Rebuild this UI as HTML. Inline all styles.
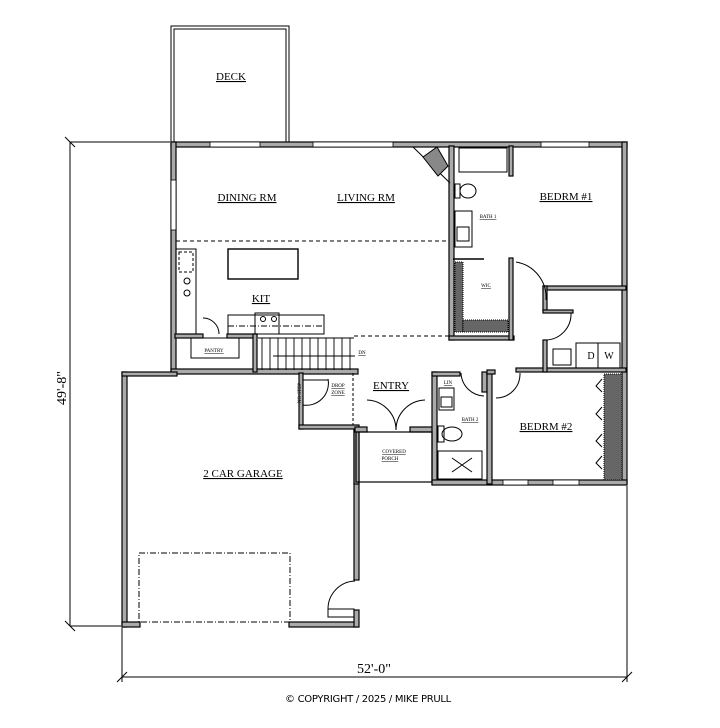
<!DOCTYPE html>
<html><head><style>
html,body{margin:0;padding:0;background:#fff;}
svg{display:block;}
text{font-family:"Liberation Serif",serif;fill:#000;}
</style></head><body>
<svg width="720" height="728" viewBox="0 0 720 728" xmlns="http://www.w3.org/2000/svg">
<g fill="none" stroke="#000">
<!-- deck -->
<rect x="171" y="26" width="118" height="116" stroke-width="1"/>
<rect x="174" y="29" width="112" height="113" stroke-width="1"/>
</g>
<text x="231" y="80" font-size="11" text-anchor="middle" text-decoration="underline">DECK</text>

<!-- walls: gray fill with black outline -->
<g fill="#aaa" stroke="#000" stroke-width="1.2">
<!-- top wall -->
<rect x="171" y="142" width="456" height="5"/>
<!-- right wall -->
<rect x="622" y="142" width="5" height="342"/>
<!-- left wall main -->
<rect x="171" y="142" width="5" height="232"/>
<!-- bottom of pantry/stairs -->
<rect x="171" y="369" width="187" height="5"/>
<!-- garage -->
<rect x="122" y="372" width="5" height="255"/>
<rect x="122" y="372" width="55" height="4"/>
<rect x="122" y="622" width="18" height="5"/>
<rect x="289" y="622" width="69" height="5"/>
<rect x="354" y="427" width="5" height="153"/>
<rect x="354" y="610" width="5" height="17"/>
<!-- drop zone walls -->
<rect x="299" y="373" width="4" height="56"/>
<rect x="299" y="425" width="60" height="4"/>
<!-- porch -->
<rect x="354" y="430" width="5" height="54"/>
<rect x="355" y="427" width="12" height="5"/>
<rect x="410" y="427" width="26" height="5"/>
<!-- bath2 / bedroom2 block -->
<rect x="432" y="372" width="5" height="112"/>
<rect x="432" y="480" width="195" height="5"/>
<rect x="432" y="372" width="28" height="4"/>
<rect x="482" y="372" width="5" height="20"/>
<rect x="487" y="372" width="5" height="112"/>
<rect x="487" y="370" width="8" height="4"/>
<rect x="516" y="368" width="110" height="4"/>
<!-- bath1/wic block -->
<rect x="449" y="146" width="5" height="194"/>
<rect x="449" y="336" width="65" height="4"/>
<rect x="509" y="146" width="4" height="30"/>
<rect x="509" y="258" width="4" height="82"/>
<!-- bedroom1 bottom / laundry -->
<rect x="543" y="286" width="83" height="4"/>
<rect x="543" y="286" width="4" height="26"/>
<rect x="543" y="310" width="30" height="3"/>
<rect x="543" y="340" width="4" height="32"/>
<!-- kitchen/pantry partition -->
<rect x="175" y="334" width="28" height="4"/>
<rect x="227" y="334" width="30" height="4"/>
<rect x="253" y="334" width="4" height="38"/>
</g>

<!-- windows -->
<g fill="#fff" stroke="#000" stroke-width="0.8">
<rect x="210" y="142" width="50" height="5"/>
<rect x="313" y="142" width="80" height="5"/>
<rect x="541" y="142" width="48" height="5"/>
<rect x="503" y="480" width="25" height="5"/>
<rect x="553" y="480" width="26" height="5"/>
<rect x="171" y="180" width="5" height="50"/>
</g>

<g fill="none" stroke="#000" stroke-width="1">
<!-- dashed lines -->
<line x1="176" y1="241" x2="449" y2="241" stroke-dasharray="4,3"/>
<line x1="354" y1="336" x2="449" y2="336" stroke-dasharray="4,3"/>
<line x1="353" y1="373" x2="353" y2="425" stroke-dasharray="3,2"/>
<!-- island -->
<rect x="228" y="249" width="70" height="30" stroke-width="1.4"/>
<!-- left counter -->
<rect x="176" y="249" width="20" height="85"/>
<rect x="179" y="252" width="14" height="20" stroke-dasharray="3,2"/>
<circle cx="187" cy="281" r="3"/><circle cx="187" cy="293" r="3"/>
<!-- bottom counter -->
<rect x="228" y="315" width="96" height="19"/>
<rect x="255" y="313" width="24" height="21"/>
<circle cx="263" cy="319" r="2.5"/><circle cx="274" cy="319" r="2.5"/>
<line x1="228" y1="326" x2="324" y2="326" stroke-dasharray="6,2,1,2"/>
<!-- pantry -->
<rect x="191" y="338" width="48" height="20"/>
<path d="M203 318 A16 16 0 0 1 219 334"/>
<!-- stairs -->
<g stroke-width="0.9">
<line x1="258" y1="338" x2="354" y2="338"/>
<line x1="262" y1="338" x2="262" y2="370"/>
<line x1="270" y1="338" x2="270" y2="370"/>
<line x1="278" y1="338" x2="278" y2="370"/>
<line x1="286" y1="338" x2="286" y2="370"/>
<line x1="294" y1="338" x2="294" y2="370"/>
<line x1="302" y1="338" x2="302" y2="370"/>
<line x1="310" y1="338" x2="310" y2="370"/>
<line x1="318" y1="338" x2="318" y2="370"/>
<line x1="326" y1="338" x2="326" y2="370"/>
<line x1="334" y1="338" x2="334" y2="370"/>
<line x1="342" y1="338" x2="342" y2="370"/>
<line x1="350" y1="338" x2="350" y2="370"/>
<line x1="273" y1="356" x2="355" y2="356"/>
</g>
<!-- fireplace -->
<path d="M413 147 L450 183" />
<path d="M423 157 L437 147 L448 166 L438 176 Z" fill="#888"/>
<!-- bath1 -->
<rect x="459" y="148" width="48" height="24"/>
<ellipse cx="468" cy="191" rx="8" ry="7"/>
<rect x="455" y="184" width="5" height="14"/>
<rect x="455" y="211" width="17" height="36"/>
<rect x="457" y="227" width="12" height="14"/>
<line x1="453" y1="259" x2="484" y2="259" stroke-width="1.4"/>
<!-- WIC rods -->
<rect x="455" y="262" width="8" height="70" fill="#666" stroke-dasharray="1,1"/>
<rect x="463" y="320" width="45" height="12" fill="#666" stroke-dasharray="1,1"/>
<!-- bedroom1 door -->
<path d="M516 262 A36 36 0 0 1 546 300"/>
<path d="M571 313 A26 26 0 0 1 546 340"/>
<!-- laundry -->
<rect x="553" y="349" width="18" height="16"/>
<rect x="576" y="343" width="22" height="25"/>
<rect x="598" y="343" width="22" height="25"/>
<!-- bedroom2 closet -->
<rect x="604" y="374" width="18" height="106" fill="#666" stroke-dasharray="1,1"/>
<path d="M602 379 L596 386 L602 392 M602 407 L596 414 L602 420 M602 434 L596 441 L602 447 M602 456 L596 463 L602 469"/>
<!-- bath2 -->
<rect x="439" y="388" width="15" height="22"/>
<rect x="441" y="397" width="11" height="10"/>
<ellipse cx="452" cy="434" rx="10" ry="7"/>
<rect x="438" y="426" width="6" height="16"/>
<rect x="438" y="451" width="44" height="28"/>
<path d="M452 458 L472 472 M472 458 L452 472"/>
<path d="M461 373 A24 24 0 0 0 484 396"/>
<path d="M520 373 A24 24 0 0 1 496 398"/>
<!-- entry doors -->
<path d="M367 400 A30 30 0 0 1 396 430"/>
<path d="M425 400 A30 30 0 0 0 396 430"/>
<rect x="356" y="432" width="76" height="50" stroke-width="1.2"/>
<!-- drop zone door -->
<path d="M303 405 A22 22 0 0 0 328 379"/>
<line x1="303" y1="380" x2="328" y2="380"/>
<!-- garage door -->
<rect x="139" y="553" width="151" height="69" stroke-dasharray="6,2,1,2"/>
<path d="M355 581 A28 28 0 0 0 328 609"/>
<rect x="328" y="609" width="26" height="8"/>
<!-- dimensions -->
<line x1="70" y1="142" x2="170" y2="142"/>
<line x1="70" y1="626" x2="121" y2="626"/>
<line x1="70" y1="142" x2="70" y2="626"/>
<line x1="65" y1="137" x2="75" y2="147"/>
<line x1="65" y1="621" x2="75" y2="631"/>
<line x1="122" y1="628" x2="122" y2="682"/>
<line x1="627" y1="486" x2="627" y2="682"/>
<line x1="122" y1="677" x2="627" y2="677"/>
<line x1="117" y1="682" x2="127" y2="672"/>
<line x1="622" y1="682" x2="632" y2="672"/>
</g>

<g font-size="11">
<text x="247" y="201" text-anchor="middle" text-decoration="underline">DINING RM</text>
<text x="366" y="201" text-anchor="middle" text-decoration="underline">LIVING RM</text>
<text x="261" y="302" text-anchor="middle" text-decoration="underline">KIT</text>
<text x="566" y="200" text-anchor="middle" text-decoration="underline">BEDRM #1</text>
<text x="391" y="389" text-anchor="middle" text-decoration="underline">ENTRY</text>
<text x="546" y="430" text-anchor="middle" text-decoration="underline">BEDRM #2</text>
<text x="243" y="477" text-anchor="middle" text-decoration="underline">2 CAR GARAGE</text>
</g>
<g font-size="5" text-decoration="underline">
<text x="214" y="352" text-anchor="middle">PANTRY</text>
<text x="488" y="218" text-anchor="middle">BATH 1</text>
<text x="486" y="287" text-anchor="middle">WIC</text>
<text x="448" y="384" text-anchor="middle">LIN</text>
<text x="470" y="421" text-anchor="middle">BATH 2</text>
<text x="394" y="453" text-anchor="middle">COVERED</text>
<text x="390" y="460" text-anchor="middle">PORCH</text>
<text x="338" y="387" text-anchor="middle">DROP</text>
<text x="338" y="394" text-anchor="middle">ZONE</text>
<text x="362" y="354" text-anchor="middle">DN</text>
</g>
<text x="301" y="393" font-size="5" transform="rotate(-90 301 393)" text-anchor="middle">NO STEP</text>
<text x="591" y="359" font-size="10" text-anchor="middle">D</text>
<text x="609" y="359" font-size="10" text-anchor="middle">W</text>
<text x="374" y="673" font-size="14" text-anchor="middle">52'-0"</text>
<text x="66" y="388" font-size="14" text-anchor="middle" transform="rotate(-90 66 388)">49'-8"</text>
<text x="368" y="702" font-size="10" text-anchor="middle" style="font-family:'DejaVu Sans',sans-serif" letter-spacing="-0.3">© COPYRIGHT / 2025 / MIKE PRULL</text>
</svg>
</body></html>
